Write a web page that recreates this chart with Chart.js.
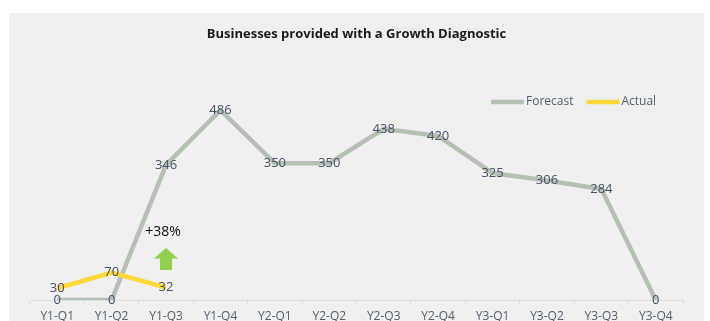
<!DOCTYPE html>
<html>
<head>
<meta charset="utf-8">
<script src="https://cdn.jsdelivr.net/npm/chart.js@4"></script>
<style>
  html, body { margin: 0; padding: 0; background: #fff; }
  #wrap { width: 710px; height: 321px; }
</style>
</head>
<body>
<div id="wrap"><canvas id="chart" width="710" height="321"></canvas></div>
<script>
const labels = ['Y1-Q1', 'Y1-Q2', 'Y1-Q3', 'Y1-Q4', 'Y2-Q1', 'Y2-Q2', 'Y2-Q3', 'Y2-Q4', 'Y3-Q1', 'Y3-Q2', 'Y3-Q3', 'Y3-Q4'];
const forecast = [0, 0, 346, 486, 350, 350, 438, 420, 325, 306, 284, 0];
const actual = [30, 70, 32];
const yTicks = [0, 600];
const noteText = '+38%';
const noteCategory = 'Y1-Q3';
const noteValue = 174;
const arrowTop = 133;
const arrowBottom = 77;

const FONT = "'Open Sans', 'Noto Sans', sans-serif";

// grey panel behind everything
const panelPlugin = {
  id: 'panel',
  beforeDraw(chart) {
    const ctx = chart.ctx;
    ctx.save();
    ctx.fillStyle = '#eff0ef';
    ctx.fillRect(9, 13, 695, 308);
    ctx.restore();
  }
};

// value labels centred on each point
const labelPlugin = {
  id: 'valueLabels',
  afterDatasetsDraw(chart) {
    const ctx = chart.ctx;
    ctx.save();
    ctx.font = '13px ' + FONT;
    ctx.fillStyle = '#44506a';
    ctx.textAlign = 'center';
    ctx.textBaseline = 'middle';
    chart.data.datasets.forEach((ds, i) => {
      chart.getDatasetMeta(i).data.forEach((pt, j) => {
        ctx.fillText(String(ds.data[j]), pt.x, pt.y);
      });
    });
    ctx.restore();
  }
};

// legend drawn inside the plot, top right
const legendPlugin = {
  id: 'innerLegend',
  afterDraw(chart) {
    const ctx = chart.ctx;
    ctx.save();
    ctx.font = '12px ' + FONT;
    ctx.textBaseline = 'middle';
    let x = 491;
    const y = 102;
    chart.data.datasets.forEach(ds => {
      ctx.strokeStyle = ds.borderColor;
      ctx.lineWidth = 4.5;
      ctx.beginPath();
      ctx.moveTo(x, y);
      ctx.lineTo(x + 33, y);
      ctx.stroke();
      ctx.fillStyle = '#55606e';
      ctx.textAlign = 'left';
      ctx.fillText(ds.label, x + 35, y);
      x += 35 + ctx.measureText(ds.label).width + 13;
    });
    ctx.restore();
  }
};

// "+38%" note and green arrow
const notePlugin = {
  id: 'note',
  afterDraw(chart) {
    const ctx = chart.ctx;
    const xs = chart.scales.x, ys = chart.scales.y;
    const cx = xs.getPixelForValue(labels.indexOf(noteCategory));
    ctx.save();
    ctx.font = '14px ' + FONT;
    ctx.fillStyle = '#111';
    ctx.textAlign = 'center';
    ctx.textBaseline = 'middle';
    ctx.fillText(noteText, cx - 3, ys.getPixelForValue(noteValue));
    const top = ys.getPixelForValue(arrowTop);
    const bot = ys.getPixelForValue(arrowBottom);
    const head = (bot - top) * 0.48;
    ctx.fillStyle = '#92d050';
    ctx.beginPath();
    ctx.moveTo(cx, top);
    ctx.lineTo(cx + 12, top + head);
    ctx.lineTo(cx + 6, top + head);
    ctx.lineTo(cx + 6, bot);
    ctx.lineTo(cx - 6, bot);
    ctx.lineTo(cx - 6, top + head);
    ctx.lineTo(cx - 12, top + head);
    ctx.closePath();
    ctx.fill();
    ctx.restore();
  }
};

new Chart(document.getElementById('chart'), {
  type: 'line',
  data: {
    labels: labels,
    datasets: [{
      label: 'Forecast',
      data: forecast,
      borderColor: '#b4c0b1',
      backgroundColor: '#b4c0b1',
      borderWidth: 4.5,
      pointRadius: 0,
      tension: 0,
      order: 2
    }, {
      label: 'Actual',
      data: actual,
      borderColor: '#fcd838',
      backgroundColor: '#fcd838',
      borderWidth: 4.5,
      pointRadius: 0,
      tension: 0,
      order: 1
    }]
  },
  options: {
    responsive: false,
    animation: false,
    layout: { padding: { left: 30, right: 27, top: 0, bottom: 0 } },
    plugins: {
      legend: { display: false },
      tooltip: { enabled: false },
      title: {
        display: true,
        text: 'Businesses provided with a Growth Diagnostic',
        color: '#1a1a1a',
        font: { family: FONT, size: 13, weight: 'bold' },
        padding: { top: 26, bottom: 24 }
      }
    },
    scales: {
      x: {
        offset: true,
        afterFit(axis) { axis.height = 21; },
        grid: {
          offset: true,
          drawOnChartArea: false,
          drawTicks: true,
          tickLength: 4,
          color: '#d6dde6'
        },
        border: { color: '#d6dde6', width: 1 },
        ticks: {
          color: '#55606e',
          font: { family: FONT, size: 12 },
          padding: 5,
          maxRotation: 0,
          autoSkip: false
        }
      },
      y: {
        display: false,
        min: yTicks[0],
        max: yTicks[1]
      }
    }
  },
  plugins: [panelPlugin, labelPlugin, legendPlugin, notePlugin]
});
</script>
</body>
</html>
